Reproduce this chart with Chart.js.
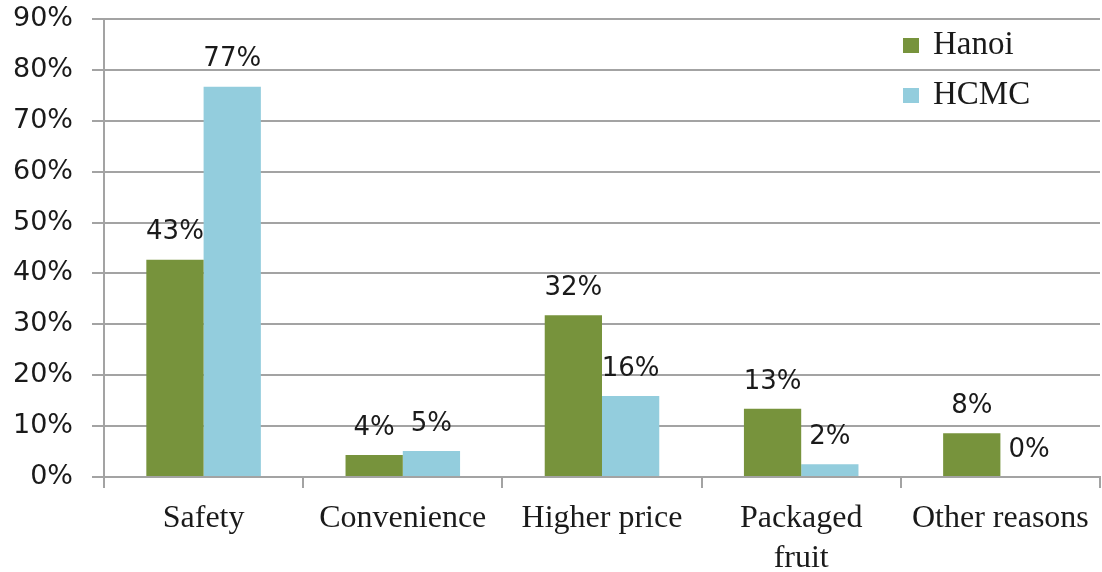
<!DOCTYPE html>
<html>
<head>
<meta charset="utf-8">
<script src="https://cdn.jsdelivr.net/npm/chart.js@4/dist/chart.umd.min.js"></script>
<style>
  html, body { margin: 0; padding: 0; background: #fff; }
  #wrap { width: 1102px; height: 572px; }
</style>
</head>
<body>
<div id="wrap"><canvas id="chart" width="1102" height="572"></canvas></div>
<script>
// data
const categories = ['Safety', 'Convenience', 'Higher price', ['Packaged', 'fruit'], 'Other reasons'];
const hanoiValues = [42.7, 4.3, 31.8, 13.4, 8.6];
const hcmcValues = [76.7, 5.1, 15.9, 2.5, 0];
const hanoiLabels = ['43%', '4%', '32%', '13%', '8%'];
const hcmcLabels = ['77%', '5%', '16%', '2%', '0%'];
const yMin = 0, yMax = 90, yStep = 10;

const GRID = '#a3a3a3';
const TEXT = '#1a1a1a';

// value labels above each bar
const valueLabels = {
  id: 'valueLabels',
  afterDatasetsDraw(chart) {
    const ctx = chart.ctx;
    ctx.save();
    ctx.font = '26px "DejaVu Sans"';
    ctx.fillStyle = TEXT;
    ctx.textAlign = 'center';
    ctx.textBaseline = 'middle';
    chart.data.datasets.forEach((ds, i) => {
      chart.getDatasetMeta(i).data.forEach((bar, j) => {
        ctx.fillText(ds.valueText[j], bar.x, bar.y - 27);
      });
    });
    ctx.restore();
  }
};

// legend drawn inside the plot, top right
const innerLegend = {
  id: 'innerLegend',
  afterDraw(chart) {
    const ctx = chart.ctx;
    ctx.save();
    ctx.font = '33px "Liberation Serif"';
    ctx.textBaseline = 'middle';
    chart.data.datasets.forEach((ds, i) => {
      const y = 45 + i * 50;
      ctx.fillStyle = ds.backgroundColor;
      ctx.fillRect(903, y - 7, 16, 15);
      ctx.fillStyle = TEXT;
      ctx.fillText(ds.label, 933, y);
    });
    ctx.restore();
  }
};

new Chart(document.getElementById('chart'), {
  type: 'bar',
  data: {
    labels: categories,
    datasets: [
      { label: 'Hanoi', data: hanoiValues, valueText: hanoiLabels, backgroundColor: '#77933c' },
      { label: 'HCMC', data: hcmcValues, valueText: hcmcLabels, backgroundColor: '#93cddd' }
    ]
  },
  options: {
    responsive: false,
    animation: false,
    devicePixelRatio: 1,
    layout: { padding: { top: 19, right: 2, left: 0, bottom: 0 } },
    datasets: { bar: { categoryPercentage: 0.575, barPercentage: 1.0 } },
    plugins: { legend: { display: false }, tooltip: { enabled: false } },
    scales: {
      x: {
        grid: { display: true, drawOnChartArea: false, drawTicks: true, tickLength: 11, color: GRID, lineWidth: 2 },
        border: { color: GRID, width: 2 },
        ticks: { color: TEXT, padding: 11, maxRotation: 0, autoSkip: false,
                 font: { family: 'Liberation Serif', size: 32, lineHeight: 1.25 } },
        afterFit(scale) { scale.height = 95; }
      },
      y: {
        min: yMin, max: yMax,
        grid: { color: GRID, lineWidth: 2, tickLength: 12 },
        border: { color: GRID, width: 2 },
        ticks: { stepSize: yStep, color: TEXT, padding: 19,
                 font: { family: 'DejaVu Sans', size: 27 },
                 callback: v => v + '%' },
        afterFit(scale) { scale.width = 104; scale.paddingTop = 0; scale.paddingBottom = 0; }
      }
    }
  },
  plugins: [valueLabels, innerLegend]
});
</script>
</body>
</html>
